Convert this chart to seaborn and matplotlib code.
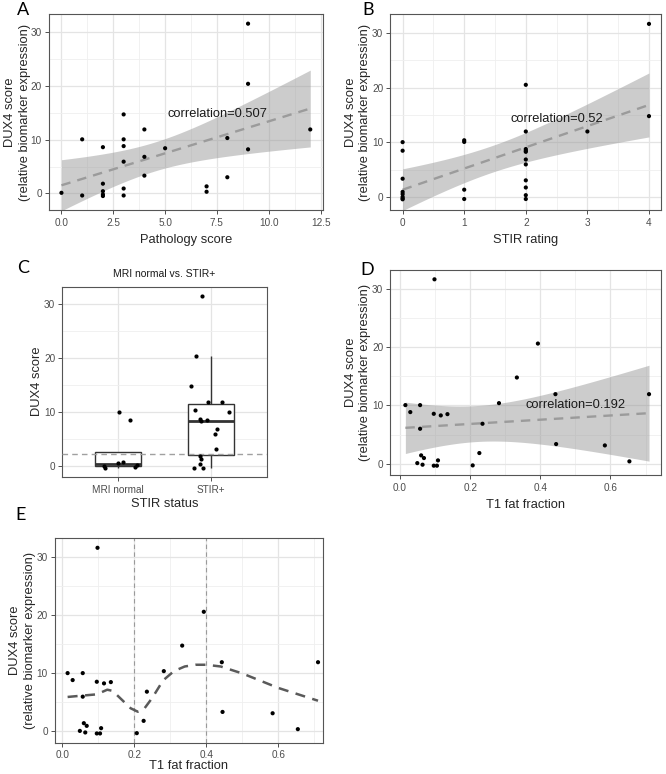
import numpy as np
import pandas as pd
import matplotlib
matplotlib.use("Agg")
import matplotlib.pyplot as plt
import seaborn as sns
from matplotlib.ticker import MultipleLocator, FixedLocator

# ---------------- data ----------------
# Panel A: pathology score vs DUX4
path_score = [0, 1, 1, 2, 2, 2, 2, 2, 3, 3, 3, 3, 3, 3, 4, 4, 4, 5, 7, 7, 8, 8, 9, 9, 9, 12]
path_dux4 = [0.1, 10.06, -0.4, 8.6, 1.8, 0.4, -0.2, -0.5, 14.7, 10.06, 8.8, 5.9, 0.9, -0.4,
             11.9, 6.8, 3.3, 8.4, 1.3, 0.3, 10.3, 3.0, 31.6, 20.4, 8.2, 11.9]

# Panel B: STIR rating vs DUX4
stir_rating = [0, 0, 0, 0, 0, 0, 0, 0, 1, 1, 1, 1, 2, 2, 2, 2, 2, 2, 2, 2, 2, 2, 2, 3, 4, 4]
stir_dux4 = [10.06, 8.5, 3.4, 1.0, 0.6, 0.1, -0.2, -0.35, 10.4, 10.1, 1.4, -0.3,
             20.5, 12.0, 8.8, 8.5, 8.3, 6.9, 6.0, 3.1, 1.8, 0.4, -0.3, 12.0, 31.6, 14.8]

# Panel C: STIR status groups
status_order = ["MRI normal", "STIR+"]
status_group = ["MRI normal"] * 8 + ["STIR+"] * 18
status_dux4 = [-0.3, -0.15, 0.05, 0.3, 0.6, 0.8, 8.5, 10.06,
               31.66, 20.5, 14.8, 12.0, 12.0, 10.4, 10.1, 8.8, 8.5, 8.3, 6.9, 6.0,
               3.1, 1.8, 1.4, 0.4, -0.3, -0.3]
status_threshold = 2.3

# Panels D and E: T1 fat fraction vs DUX4
t1_fat = [0.015, 0.029, 0.057, 0.057, 0.049, 0.060, 0.068, 0.064, 0.096, 0.098, 0.096, 0.105,
          0.108, 0.116, 0.135, 0.207, 0.226, 0.235, 0.282, 0.333, 0.393, 0.443, 0.445, 0.584,
          0.654, 0.710]
t1_dux4 = [10.06, 8.86, 10.06, 6.0, 0.1, 1.43, 0.97, -0.17, 8.57, 31.66, -0.34, -0.34,
           0.57, 8.29, 8.51, -0.29, 1.83, 6.86, 10.4, 14.8, 20.63, 11.94, 3.37, 3.14,
           0.4, 11.94]

# Panel E smooth curve
curve_x = [0.015, 0.05, 0.096, 0.125, 0.14, 0.16, 0.19, 0.21, 0.225, 0.25, 0.28, 0.31,
           0.34, 0.37, 0.40, 0.44, 0.50, 0.60, 0.71]
curve_y = [5.95, 6.15, 6.4, 7.2, 7.0, 5.8, 4.0, 3.4, 3.7, 5.8, 8.8, 10.4,
           11.2, 11.5, 11.5, 11.2, 10.0, 7.5, 5.3]
knots_e = [0.2, 0.4]

corr_labels = ["correlation=0.507", "correlation=0.52", "correlation=0.192"]

T_975_DF24 = 2.064  # Student t quantile for the 95% band (n = 26)

# ---------------- style ----------------
sns.set_theme(style="white")
plt.rcParams["font.family"] = ["Liberation Sans", "DejaVu Sans"]
plt.rcParams["axes.unicode_minus"] = False

TICK_COL = "#4D4D4D"
GRID_MAJ = "#E4E4E4"
GRID_MIN = "#EFEFEF"
DASH = (0, (4, 3))

W, H = 666, 774
fig = plt.figure(figsize=(W / 100, H / 100), dpi=100)


def add_ax(l, t, r, b):
    return fig.add_axes([l / W, 1 - b / H, (r - l) / W, (b - t) / H])


def style(ax, xmaj, xmin, xlim, ylim, xlabel, ylabel, xlabelpad=4, xtickpad=3.5, ylabelpad=0.5):
    ax.set_xlim(*xlim)
    ax.set_ylim(*ylim)
    if xmaj is not None:
        ax.xaxis.set_major_locator(MultipleLocator(xmaj))
    if xmin is not None:
        ax.xaxis.set_minor_locator(MultipleLocator(xmin))
    ax.yaxis.set_major_locator(MultipleLocator(10))
    ax.yaxis.set_minor_locator(MultipleLocator(5))
    ax.grid(True, which="major", color=GRID_MAJ, lw=0.9)
    ax.grid(True, which="minor", color=GRID_MIN, lw=0.6)
    ax.set_axisbelow(True)
    for s in ax.spines.values():
        s.set_visible(True)
        s.set_color("#555555")
        s.set_linewidth(0.8)
    ax.tick_params(which="major", direction="out", length=2.6, width=0.6,
                   color="#333333", labelsize=7.2, labelcolor=TICK_COL, pad=2.5,
                   bottom=True, left=True)
    ax.tick_params(axis="x", which="major", pad=xtickpad)
    ax.tick_params(which="minor", length=0)
    ax.set_xlabel(xlabel, fontsize=9.3, labelpad=xlabelpad)
    ax.set_ylabel(ylabel, fontsize=9.3, labelpad=ylabelpad, linespacing=1.3)


def reg_panel(ax, x, y):
    df = pd.DataFrame({"x": x, "y": y})
    sns.regplot(data=df, x="x", y="y", ax=ax, scatter=False, ci=None, truncate=True,
                line_kws=dict(color="#9B9B9B", lw=1.7, ls=DASH, zorder=3))
    # analytic 95% confidence band of the linear fit (as in geom_smooth(method="lm"))
    xa = np.asarray(x, float)
    ya = np.asarray(y, float)
    n = len(xa)
    b1, b0 = np.polyfit(xa, ya, 1)
    resid = ya - (b0 + b1 * xa)
    s = np.sqrt(np.sum(resid ** 2) / (n - 2))
    xm = xa.mean()
    sxx = np.sum((xa - xm) ** 2)
    g = np.linspace(xa.min(), xa.max(), 200)
    fit = b0 + b1 * g
    se = s * np.sqrt(1.0 / n + (g - xm) ** 2 / sxx)
    ax.fill_between(g, fit - T_975_DF24 * se, fit + T_975_DF24 * se,
                    color="#9A9A9A", alpha=0.5, lw=0, zorder=2)
    sns.scatterplot(data=df, x="x", y="y", ax=ax, color="black", s=9,
                    edgecolor="none", zorder=4)


YLAB2 = "DUX4 score\n(relative biomarker expression)"

# ---- A ----
axA = add_ax(49, 14, 322.7, 210)
reg_panel(axA, path_score, path_dux4)
style(axA, 2.5, 1.25, (-0.6, 12.6), (-3.1, 33.4), "Pathology score", YLAB2, ylabelpad=0)
axA.text(7.5, 14.7, corr_labels[0], fontsize=9.3, ha="center", va="center", color="#1a1a1a")

# ---- B ----
axB = add_ax(390.3, 14, 661.3, 210)
reg_panel(axB, stir_rating, stir_dux4)
style(axB, 1, 0.5, (-0.2, 4.2), (-2.3, 33.4), "STIR rating", YLAB2)
axB.text(2.5, 14.2, corr_labels[1], fontsize=9.3, ha="center", va="center", color="#1a1a1a")

# ---- C ----
axC = add_ax(62.3, 286.7, 266.7, 476.7)
dfc = pd.DataFrame({"g": status_group, "y": status_dux4})
sns.boxplot(data=dfc, x="g", y="y", order=status_order, ax=axC, width=0.5,
            color="white", linecolor="#333333", linewidth=1.0, showfliers=False,
            showcaps=False, medianprops=dict(linewidth=2.0, color="#333333"))
axC.axhline(status_threshold, color="#A0A0A0", lw=1.0, ls=DASH, zorder=3)
np.random.seed(5)
sns.stripplot(data=dfc, x="g", y="y", order=status_order, ax=axC, jitter=0.25,
              color="black", size=3.0, linewidth=0, zorder=4)
style(axC, None, None, (-0.6, 1.6), (-1.95, 33.3), "STIR status", "DUX4 score", xlabelpad=2)
axC.xaxis.set_major_locator(FixedLocator([0, 1]))
axC.set_xticklabels(status_order)
axC.set_title("MRI normal vs. STIR+", fontsize=7.5, pad=7, color="#1a1a1a")

# ---- D ----
axD = add_ax(390.3, 270, 661.3, 475)
reg_panel(axD, t1_fat, t1_dux4)
style(axD, 0.2, 0.1, (-0.028, 0.745), (-1.94, 33.26), "T1 fat fraction", YLAB2)
axD.text(0.5, 10.0, corr_labels[2], fontsize=9.3, ha="center", va="center", color="#1a1a1a")

# ---- E ----
axE = add_ax(55, 537.7, 322.7, 742.5)
for k in knots_e:
    axE.axvline(k, color="#9A9A9A", lw=0.8, ls=DASH, zorder=2)
sns.lineplot(x=curve_x, y=curve_y, ax=axE, color="#5A5A5A", lw=1.8, ls=DASH, zorder=3)
sns.scatterplot(x=t1_fat, y=t1_dux4, ax=axE, color="black", s=9, edgecolor="none", zorder=4)
style(axE, 0.2, 0.1, (-0.02, 0.723), (-1.9, 33.4), "T1 fat fraction", YLAB2,
      xlabelpad=0.5, xtickpad=2.5)

# panel letters
for letter, px, py in [("A", 17, 15), ("B", 362, 15), ("C", 17, 273), ("D", 360, 275), ("E", 15, 520)]:
    fig.text(px / W, 1 - py / H, letter, fontsize=13, family=["Lato", "DejaVu Sans"],
             ha="left", va="baseline", color="black")

fig.savefig("out.png", dpi=100)
